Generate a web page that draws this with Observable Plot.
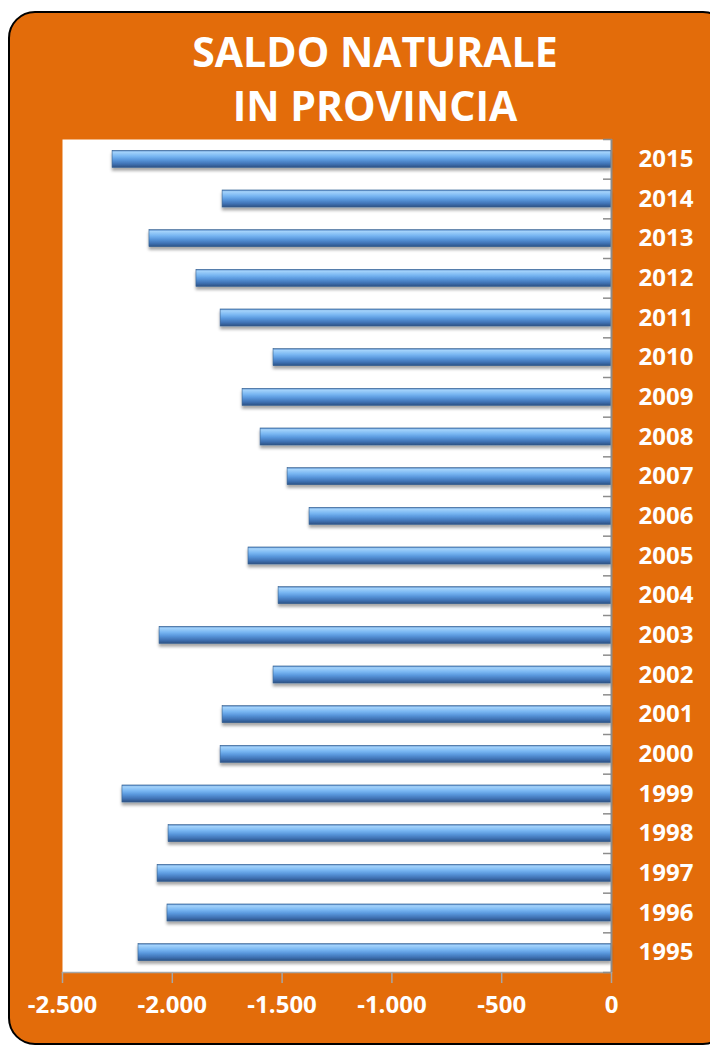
<!DOCTYPE html>
<html>
<head>
<meta charset="utf-8">
<script src="https://cdn.jsdelivr.net/npm/d3@7"></script>
<script src="https://cdn.jsdelivr.net/npm/@observablehq/plot@0.6"></script>
<style>
  html, body { margin: 0; padding: 0; background: #fff; width: 710px; height: 1046px; overflow: hidden; }
  #card { position: absolute; left: 8px; top: 11px; width: 722px; height: 1034px; box-sizing: border-box;
          border: 2px solid #000; border-radius: 27px; background: #E36C0A; }
  #title { position: absolute; left: 0; top: 24px; width: 750px; text-align: center; color: #fff;
           font-family: "Open Sans", sans-serif; font-weight: 700; font-size: 41px; line-height: 54px; }
  #chart { position: absolute; left: 0; top: 0; }
  #chart svg { overflow: visible; }
</style>
</head>
<body>
<div id="card"></div>
<div id="title">SALDO NATURALE<br>IN PROVINCIA</div>
<div id="chart"></div>
<script>
const years = [2015, 2014, 2013, 2012, 2011, 2010, 2009, 2008, 2007, 2006, 2005, 2004, 2003, 2002, 2001, 2000, 1999, 1998, 1997, 1996, 1995];
const values = [-2272, -1771, -2104, -1890, -1780, -1539, -1680, -1598, -1475, -1375, -1653, -1516, -2058, -1539, -1771, -1780, -2227, -2017, -2067, -2022, -2154];
const xTicks = [-2500, -2000, -1500, -1000, -500, 0];

const data = years.map((y, i) => ({year: String(y), value: values[i]}));
const yDomain = years.map(String);

const W = 710, H = 1046, mT = 139, mB = 74, mL = 62, mR = 99;
const step = (H - mT - mB) / years.length;

const itLocale = d3.formatLocale({decimal: ",", thousands: ".", grouping: [3], currency: ["", "€"], minus: "-"});
const fmt = itLocale.format(",d");

const plot = Plot.plot({
  width: W, height: H,
  marginTop: mT, marginBottom: mB, marginLeft: mL, marginRight: mR,
  style: {background: "transparent", fontFamily: "Open Sans, sans-serif", overflow: "visible"},
  x: {domain: [-2500, 0], label: null},
  y: {domain: yDomain, paddingInner: 0.57, paddingOuter: 0.285, round: false, label: null},
  marks: [
    Plot.frame({fill: "white", stroke: null}),
    Plot.barX(data, {x: "value", y: "year", fill: "url(#barGrad)", stroke: "#35608f", strokeWidth: 0.6, className: "bars"}),
    Plot.frame({anchor: "bottom", stroke: "#a6a6a6", strokeWidth: 1.5}),
    Plot.ruleX([0], {stroke: "#8c8c8c", strokeWidth: 2}),
    Plot.axisY({anchor: "right", tickSize: -9, tickFormat: () => "", stroke: "#8c8c8c", strokeWidth: 1.5, dy: step / 2}),
    Plot.axisY([yDomain[0]], {anchor: "right", tickSize: -9, tickFormat: () => "", stroke: "#8c8c8c", strokeWidth: 1.5, dy: -step / 2}),
    Plot.axisY({anchor: "right", tickSize: 0, tickPadding: 27, fontSize: 24, fontWeight: 700, fill: "white", label: null}),
    Plot.axisX(xTicks, {anchor: "bottom", tickSize: 11, tickPadding: 12, tickFormat: fmt, fontSize: 24, fontWeight: 700, fill: "white", stroke: "#a6a6a6", strokeWidth: 1.5, label: null})
  ]
});

const ns = "http://www.w3.org/2000/svg";
const defs = document.createElementNS(ns, "defs");
defs.innerHTML = `
  <linearGradient id="barGrad" x1="0" y1="0" x2="0" y2="1">
    <stop offset="0" stop-color="#4d7fbf"/>
    <stop offset="0.1" stop-color="#a4d3fb"/>
    <stop offset="0.35" stop-color="#78b6f2"/>
    <stop offset="0.55" stop-color="#5a98dd"/>
    <stop offset="0.8" stop-color="#3f72b4"/>
    <stop offset="1" stop-color="#2c5183"/>
  </linearGradient>
  <filter id="shadow" x="-5%" y="-50%" width="110%" height="250%">
    <feDropShadow dx="0" dy="3" stdDeviation="1.6" flood-color="#000" flood-opacity="0.35"/>
  </filter>`;
plot.insertBefore(defs, plot.firstChild);
const bars = plot.querySelector(".bars");
if (bars) bars.setAttribute("filter", "url(#shadow)");
document.getElementById("chart").appendChild(plot);
</script>
</body>
</html>
